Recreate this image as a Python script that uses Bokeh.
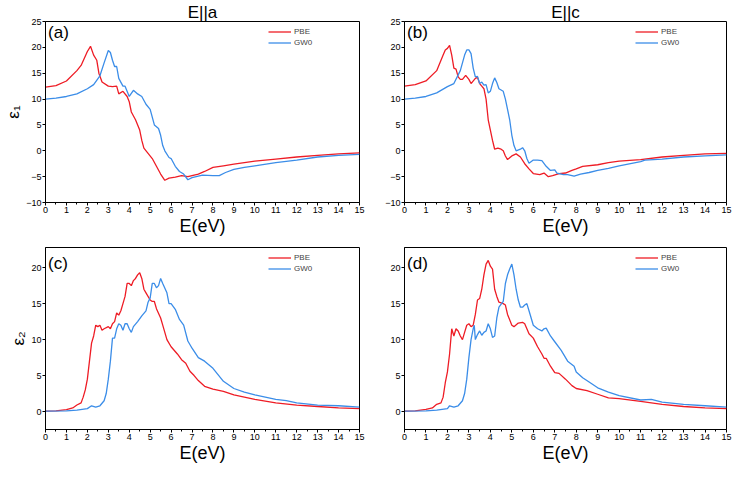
from bokeh.plotting import figure
from bokeh.layouts import column, row
from bokeh.models import Legend, LegendItem, Label, Range1d, FixedTicker
from bokeh.embed import file_html
from bokeh.resources import INLINE

# ---------------- data (E in eV, epsilon values) ----------------
x_ticks = list(range(0, 16))
y_ticks_eps1 = [-10, -5, 0, 5, 10, 15, 20, 25]
y_ticks_eps2 = [0, 5, 10, 15, 20]

# (a) eps1, E||a
pbe_a = [(0, 12.3), (0.5, 12.6), (1.0, 13.5), (1.5, 15.5), (1.7, 16.5), (2.0, 19.2), (2.15, 20.2),
         (2.3, 18.5), (2.45, 17.5), (2.55, 15.0), (2.7, 13.3), (3.0, 12.5), (3.2, 12.4), (3.4, 12.5),
         (3.5, 11.0), (3.7, 11.5), (3.9, 10.5), (4.0, 9.5), (4.1, 7.5), (4.3, 6.0), (4.5, 4.0),
         (4.6, 2.0), (4.7, 0.5), (4.9, -0.5), (5.1, -1.5), (5.3, -3.0), (5.5, -4.5), (5.7, -5.7),
         (5.9, -5.3), (6.2, -5.1), (6.5, -4.8), (6.8, -5.0), (7.0, -4.8), (7.3, -4.5), (7.6, -4.0),
         (8.0, -3.2), (8.5, -2.9), (9.0, -2.6), (9.5, -2.3), (10, -2.0), (11, -1.6), (12, -1.2),
         (13, -0.9), (14, -0.6), (15, -0.4)]
gw_a = [(0, 10.0), (0.5, 10.2), (1.0, 10.5), (1.5, 11.0), (2.0, 12.0), (2.3, 12.8), (2.6, 14.5),
        (2.8, 17.0), (3.0, 19.4), (3.1, 19.0), (3.2, 17.5), (3.3, 16.3), (3.4, 16.3), (3.5, 14.0),
        (3.7, 12.5), (3.8, 12.5), (4.0, 10.5), (4.2, 11.7), (4.4, 11.0), (4.6, 10.5), (4.8, 9.0),
        (5.0, 8.0), (5.1, 6.5), (5.2, 5.0), (5.4, 4.3), (5.5, 3.0), (5.6, 1.0), (5.7, 0.0),
        (5.9, -1.3), (6.0, -1.5), (6.2, -3.0), (6.4, -4.0), (6.6, -4.5), (6.8, -5.6), (7.0, -5.2),
        (7.2, -5.0), (7.5, -4.7), (8.0, -4.8), (8.3, -4.8), (8.6, -4.2), (9.0, -3.6), (9.5, -3.2),
        (10, -2.9), (11, -2.3), (12, -1.8), (13, -1.2), (14, -0.9), (15, -0.7)]

# (b) eps1, E||c
pbe_b = [(0, 12.5), (0.5, 12.8), (1.0, 13.5), (1.5, 15.5), (1.8, 18.5), (1.9, 19.5), (2.0, 19.8),
         (2.1, 20.4), (2.2, 18.5), (2.3, 16.0), (2.4, 15.8), (2.5, 14.3), (2.6, 13.8), (2.7, 13.8),
         (2.85, 14.6), (3.0, 13.8), (3.1, 13.0), (3.3, 14.0), (3.4, 14.2), (3.5, 13.0), (3.6, 12.5),
         (3.7, 12.0), (3.8, 10.0), (3.9, 6.0), (4.0, 4.0), (4.1, 2.0), (4.2, 0.3), (4.35, 0.5),
         (4.5, 0.3), (4.6, 0.0), (4.7, -1.0), (4.8, -1.7), (5.0, -1.0), (5.2, -0.6), (5.4, -1.2),
         (5.6, -2.5), (5.8, -3.5), (6.0, -4.4), (6.3, -4.6), (6.5, -4.3), (6.7, -5.0), (6.9, -4.8),
         (7.2, -4.4), (7.5, -4.3), (7.8, -3.8), (8.0, -3.5), (8.3, -3.0), (9.0, -2.7), (9.5, -2.3),
         (10, -2.0), (11, -1.7), (12, -1.2), (13, -0.9), (14, -0.6), (15, -0.5)]
gw_b = [(0, 10.0), (0.5, 10.2), (1.0, 10.5), (1.5, 11.2), (2.0, 12.4), (2.3, 13.0), (2.6, 15.5),
        (2.8, 18.5), (2.9, 19.5), (3.0, 19.5), (3.1, 18.8), (3.2, 16.0), (3.3, 14.3), (3.4, 14.4),
        (3.5, 13.0), (3.6, 13.3), (3.7, 12.7), (3.8, 12.8), (3.9, 11.2), (4.0, 11.5), (4.1, 13.0),
        (4.2, 14.1), (4.3, 13.2), (4.4, 12.0), (4.6, 11.5), (4.7, 10.0), (4.8, 8.0), (4.9, 6.0),
        (5.0, 3.0), (5.1, 1.0), (5.2, 0.0), (5.4, 0.3), (5.5, 0.6), (5.6, 0.0), (5.7, -1.5),
        (5.8, -2.4), (6.0, -1.8), (6.2, -1.8), (6.4, -1.9), (6.6, -3.0), (6.8, -3.8), (7.0, -3.7),
        (7.1, -4.3), (7.4, -4.6), (7.6, -4.6), (7.9, -4.9), (8.2, -4.5), (8.6, -4.2), (9.0, -3.8),
        (9.5, -3.4), (10, -2.9), (11, -2.1), (11.2, -1.8), (12, -1.6), (13, -1.2), (14, -1.0),
        (15, -0.8)]

# (c) eps2, E||a
pbe_c = [(0, 0.05), (0.5, 0.1), (1.0, 0.25), (1.3, 0.5), (1.5, 0.9), (1.7, 1.2), (1.8, 2.0),
         (1.9, 3.0), (2.0, 4.5), (2.1, 7.0), (2.2, 9.5), (2.3, 10.5), (2.4, 12.0), (2.5, 11.8),
         (2.6, 12.0), (2.7, 11.3), (2.8, 11.5), (3.0, 11.8), (3.1, 11.5), (3.2, 12.2), (3.3, 12.5),
         (3.4, 13.7), (3.5, 13.4), (3.6, 14.0), (3.7, 15.0), (3.8, 16.0), (3.9, 17.8), (4.0, 17.8),
         (4.1, 17.5), (4.2, 18.2), (4.3, 18.5), (4.4, 19.0), (4.5, 19.3), (4.6, 18.5), (4.7, 17.0),
         (4.8, 16.5), (5.0, 15.5), (5.1, 15.3), (5.2, 15.3), (5.3, 14.3), (5.5, 13.0), (5.6, 12.0),
         (5.8, 10.0), (6.0, 9.0), (6.3, 8.0), (6.5, 7.2), (6.7, 6.7), (6.9, 5.6), (7.1, 5.0),
         (7.3, 4.3), (7.6, 3.5), (8.0, 3.1), (8.5, 2.8), (9.0, 2.3), (9.5, 2.0), (10, 1.7),
         (11, 1.2), (12, 0.9), (13, 0.7), (14, 0.5), (15, 0.4)]
gw_c = [(0, 0.05), (1.0, 0.1), (1.5, 0.2), (2.0, 0.4), (2.2, 0.8), (2.4, 0.6), (2.6, 0.8),
        (2.8, 1.5), (2.9, 2.5), (3.0, 4.5), (3.1, 7.0), (3.2, 10.2), (3.3, 10.2), (3.4, 11.5),
        (3.5, 12.2), (3.6, 12.0), (3.7, 11.3), (3.8, 12.2), (3.9, 12.2), (4.0, 11.5), (4.1, 11.0),
        (4.2, 11.8), (4.4, 12.5), (4.6, 13.3), (4.8, 14.0), (4.9, 15.2), (5.0, 15.8), (5.1, 17.8),
        (5.2, 17.8), (5.3, 17.2), (5.4, 17.5), (5.5, 18.5), (5.6, 17.8), (5.8, 16.5), (5.9, 15.0),
        (6.0, 15.0), (6.2, 14.2), (6.4, 12.8), (6.6, 12.0), (6.8, 9.8), (7.0, 8.8), (7.3, 7.5),
        (7.6, 7.0), (8.0, 6.0), (8.5, 4.2), (9.0, 3.2), (9.5, 2.7), (10, 2.3), (11, 1.7),
        (11.5, 1.5), (12, 1.2), (13, 0.9), (14, 0.8), (15, 0.6)]

# (d) eps2, E||c
pbe_d = [(0, 0.05), (0.5, 0.1), (1.0, 0.3), (1.3, 0.5), (1.5, 1.0), (1.7, 1.2), (1.8, 2.0),
         (1.9, 4.0), (2.0, 5.5), (2.1, 8.0), (2.2, 11.5), (2.3, 10.5), (2.4, 11.5), (2.5, 11.2),
         (2.6, 10.5), (2.7, 10.0), (2.8, 11.0), (2.9, 12.0), (3.0, 12.2), (3.1, 11.8), (3.2, 12.0),
         (3.3, 13.5), (3.4, 15.5), (3.5, 15.7), (3.6, 17.0), (3.7, 19.0), (3.8, 20.5), (3.9, 21.0),
         (4.0, 20.2), (4.1, 19.8), (4.2, 17.0), (4.3, 16.0), (4.4, 15.2), (4.6, 15.0), (4.7, 14.8),
         (4.8, 13.5), (5.0, 12.0), (5.1, 11.8), (5.3, 12.3), (5.5, 12.4), (5.6, 12.2), (5.7, 11.5),
         (5.8, 10.8), (6.0, 10.2), (6.2, 9.0), (6.4, 8.0), (6.5, 7.4), (6.6, 7.4), (6.8, 6.3),
         (7.0, 5.4), (7.2, 5.3), (7.5, 4.5), (7.8, 3.6), (8.0, 3.2), (8.5, 2.9), (9.0, 2.4),
         (9.5, 1.9), (10, 1.8), (11, 1.4), (12, 1.0), (13, 0.7), (14, 0.5), (15, 0.4)]
gw_d = [(0, 0.05), (1.0, 0.1), (1.5, 0.2), (2.0, 0.4), (2.1, 0.8), (2.3, 0.6), (2.5, 0.8),
        (2.7, 1.5), (2.8, 2.5), (2.9, 4.5), (3.0, 7.5), (3.1, 10.0), (3.2, 11.5), (3.25, 12.0),
        (3.3, 10.0), (3.4, 10.7), (3.5, 11.2), (3.6, 10.6), (3.7, 11.0), (3.8, 11.2), (3.9, 12.2),
        (4.0, 11.5), (4.1, 10.3), (4.2, 10.5), (4.3, 13.0), (4.4, 14.5), (4.6, 15.3), (4.7, 17.8),
        (4.8, 19.0), (4.9, 19.8), (5.0, 20.5), (5.1, 19.0), (5.2, 17.0), (5.3, 15.5), (5.4, 14.5),
        (5.5, 14.5), (5.6, 14.8), (5.7, 15.0), (5.8, 14.0), (6.0, 12.0), (6.2, 11.5), (6.4, 11.2),
        (6.5, 11.5), (6.6, 11.6), (6.8, 10.5), (7.0, 9.7), (7.3, 8.5), (7.6, 7.0), (7.9, 6.3),
        (8.0, 5.5), (8.3, 4.7), (8.6, 4.1), (9.0, 3.3), (9.5, 2.7), (10, 2.2), (11, 1.6),
        (11.5, 1.7), (12, 1.3), (13, 1.0), (14, 0.8), (15, 0.6)]

series_names = ["PBE", "GW0"]
titles = ["E||a", "E||c"]
tags = ["(a)", "(b)", "(c)", "(d)"]
y_labels = ["ε₁", "ε₂"]

# ---------------- styling ----------------
FONT = "Liberation Sans"
RED = "#ee1c25"
BLUE = "#3b8de8"


def make_panel(pbe, gw, tag, yr, yticks, tag_y, width, height, bl, br, bt, bb,
               title=None, ylabel=None):
    kw = dict(width=width, height=height, x_range=Range1d(0, 15), y_range=Range1d(*yr),
              output_backend="svg", toolbar_location=None,
              min_border_left=bl, min_border_right=br, min_border_top=bt, min_border_bottom=bb)
    if title is not None:
        kw["title"] = title
    p = figure(**kw)
    if title is not None:
        p.title.align = "center"
        p.title.text_font = FONT
        p.title.text_font_size = "17px"
        p.title.text_font_style = "normal"
        p.title.text_color = "black"
        p.title.standoff = 0
        p.title.offset = 0
    p.xgrid.visible = False
    p.ygrid.visible = False
    p.outline_line_color = "black"
    p.outline_line_width = 1
    p.background_fill_color = "white"
    p.border_fill_color = "white"

    r1 = p.line([a for a, b in pbe], [b for a, b in pbe], line_color=RED, line_width=1.3)
    r2 = p.line([a for a, b in gw], [b for a, b in gw], line_color=BLUE, line_width=1.3)

    xa = p.xaxis[0]
    xa.ticker = FixedTicker(ticks=x_ticks, minor_ticks=[i + 0.5 for i in range(15)])
    xa.axis_label = "E(eV)"
    ya = p.yaxis[0]
    ya.ticker = FixedTicker(ticks=yticks, minor_ticks=[])
    if ylabel is not None:
        ya.axis_label = ylabel
    for ax in (xa, ya):
        ax.axis_line_color = "black"
        ax.major_tick_line_color = "black"
        ax.minor_tick_line_color = "black"
        ax.major_tick_in = 0
        ax.major_tick_out = 3
        ax.minor_tick_in = 0
        ax.minor_tick_out = 2
        ax.major_label_text_font = FONT
        ax.major_label_text_font_size = "9px"
        ax.major_label_text_color = "black"
        ax.major_label_standoff = 1
        ax.axis_label_text_font = FONT
        ax.axis_label_text_font_style = "normal"
        ax.axis_label_text_color = "black"
        ax.axis_label_standoff = 0
    xa.axis_label_text_font_size = "18px"
    ya.axis_label_text_font_size = "17px"

    fh = height - bt - bb
    fw = width - bl - br
    legend = Legend(items=[LegendItem(label=series_names[0], renderers=[r1]),
                           LegendItem(label=series_names[1], renderers=[r2])],
                    location=(fw - 91, fh - 27), orientation="vertical",
                    background_fill_alpha=0, border_line_alpha=0,
                    label_text_font=FONT, label_text_font_size="8px",
                    glyph_width=23, glyph_height=11, label_height=11,
                    label_standoff=3, spacing=0, padding=0, margin=0)
    p.add_layout(legend, "center")

    p.add_layout(Label(x=0.12, y=tag_y, text=tag, text_font=FONT,
                       text_font_size="17px", text_baseline="middle", text_color="black"))
    return p


W_L, W_R = 380, 353
H_T, H_B = 238, 231

pa = make_panel(pbe_a, gw_a, tags[0], (-10, 25), y_ticks_eps1, 22.9, W_L, H_T, 45, 21, 21, 36,
                title=titles[0], ylabel=y_labels[0])
pb = make_panel(pbe_b, gw_b, tags[1], (-10, 25), y_ticks_eps1, 22.9, W_R, H_T, 24, 7, 21, 36,
                title=titles[1])
pc = make_panel(pbe_c, gw_c, tags[2], (-2.5, 22.8), y_ticks_eps2, 20.6, W_L, H_B, 45, 21, 9, 40,
                ylabel=y_labels[1])
pd = make_panel(pbe_d, gw_d, tags[3], (-2.5, 22.8), y_ticks_eps2, 20.6, W_R, H_B, 24, 7, 9, 40)

layout = column(row(pa, pb), row(pc, pd))

open("out.html", "w").write(file_html(layout, INLINE))
